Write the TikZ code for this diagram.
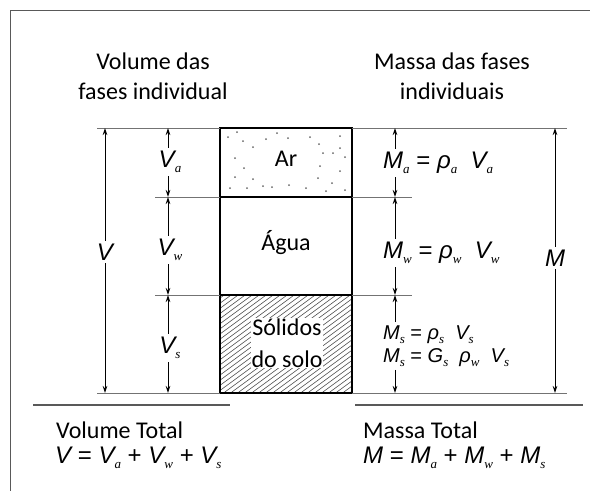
\documentclass[tikz,border=0pt]{standalone}
\usepackage{fontspec}
\setmainfont{Carlito}
\newfontfamily\symfont{Liberation Sans}
\newfontfamily\subfont{Liberation Serif}
\usetikzlibrary{arrows.meta}

% quantity with subscript: italic sans letter, small italic serif index
\newcommand{\qv}[2]{{\symfont\itshape #1}\raisebox{-0.22em}{\subfont\itshape\fontsize{13}{13}\selectfont #2}}
\newcommand{\qq}[1]{{\symfont\itshape #1}}

\begin{document}
\begin{tikzpicture}[x=1pt,y=-1pt,>={Stealth[length=7pt,width=4.5pt]},
  extline/.style={draw=black!55,line width=0.9pt},
  boxline/.style={line width=1.8pt},
  dim/.style={->,line width=0.9pt},
  txt/.style={font=\fontsize{24}{30}\selectfont,inner sep=1pt},
  sym/.style={font=\symfont\fontsize{24}{24}\selectfont,inner sep=3pt}]
\useasboundingbox (0,0) rectangle (590,491);
\draw[black!65,line width=1pt] (590,10) -- (10,10) -- (10,491);

% levels of the phase boundaries
\coordinate (top) at (0,128);
\coordinate (ar) at (0,197);
\coordinate (ag) at (0,295);
\coordinate (bot) at (0,393);
% arrow columns
\coordinate (cv) at (105,0);
\coordinate (cvi) at (168,0);
\coordinate (cmi) at (395,0);
\coordinate (cm) at (555,0);

% headers
\node[txt,align=center] (hvol) at (153,76) {Volume das\\fases individual};
\node[txt,align=center] (hmas) at (452,76) {Massa das fases\\individuais};

% air: dots
\foreach \p in {(228,137),(237,132),(243,141),(253,147),(266,139),(277,133),
  (288,138),(310,137),(319,144),(340,136),(340,148),(323,153),(333,153),
  (345,157),(235,158),(244,168),(320,166),(340,171),(235,177),(253,179),
  (318,178),(332,183),(230,188),(247,188),(263,186),(272,187),(289,185),
  (306,188),(326,191),(345,190)}
  \fill[black!60] \p circle (1pt);

% solids: hatch
\begin{scope}
\clip (220,295) rectangle (352,393);
\foreach \x in {60,67,...,360}
  \draw[black!70,line width=0.6pt] (\x,400) -- ++(150,-110);
\end{scope}

% phase box
\draw[boxline] (220,128) rectangle (352,393);
\draw[boxline] (220,197) -- (352,197);
\draw[boxline] (220,295) -- (352,295);

\node[txt] (nar) at (286,159) {Ar};
\node[txt] (nag) at (286,243) {Água};
\node[txt,align=center,fill=white,font=\fontsize{24}{32}\selectfont] (nsol) at (287,343) {Sólidos\\do solo};

% extension lines
\draw[extline] (97,128) -- (220,128);
\draw[extline] (155,197) -- (220,197);
\draw[extline] (155,295) -- (220,295);
\draw[extline] (97,393) -- (220,393);
\draw[extline] (352,128) -- (567,128);
\draw[extline] (352,197) -- (412,197);
\draw[extline] (352,295) -- (412,295);
\draw[extline] (352,393) -- (567,393);

% volumes
\node[sym] (vt) at (105,252) {\qq{V}};
\node[sym] (va) at (170,162) {\qv{V}{a}};
\node[sym] (vw) at (170,250) {\qv{V}{w}};
\node[sym] (vs) at (170,348) {\qv{V}{s}};
\draw[dim] (vt) -- (vt |- top);
\draw[dim] (vt) -- (vt |- bot);
\draw[dim] (va.north -| cvi) -- (cvi |- top);
\draw[dim] (va.south -| cvi) -- (cvi |- ar);
\draw[dim] (vw.north -| cvi) -- (cvi |- ar);
\draw[dim] (vw.south -| cvi) -- (cvi |- ag);
\draw[dim] (vs.north -| cvi) -- (cvi |- ag);
\draw[dim] (vs.south -| cvi) -- (cvi |- bot);

% masses
\node[sym,anchor=west] (ma) at (380,163) {\qv{M}{a} = \qv{ρ}{a}\ \ \qv{V}{a}};
\node[sym,anchor=west] (mw) at (380,253) {\qv{M}{w} = \qv{ρ}{w}\ \ \qv{V}{w}};
\node[sym,anchor=west,align=left,font=\symfont\fontsize{20}{23}\selectfont] (ms) at (380,346)
  {\qv{M}{s} = \qv{ρ}{s}\ \ \qv{V}{s}\\\qv{M}{s} = \qv{G}{s}\ \ \qv{ρ}{w}\ \ \qv{V}{s}};
\node[sym] (mt) at (555,258) {\qq{M}};
\draw[dim] (ma.north -| cmi) -- (cmi |- top);
\draw[dim] (ma.south -| cmi) -- (cmi |- ar);
\draw[dim] (mw.north -| cmi) -- (cmi |- ar);
\draw[dim] (mw.south -| cmi) -- (cmi |- ag);
\draw[dim] (ms.north -| cmi) -- (cmi |- ag);
\draw[dim] (ms.south -| cmi) -- (cmi |- bot);
\draw[dim] (mt) -- (mt |- top);
\draw[dim] (mt) -- (mt |- bot);

% totals
\draw[black!65,line width=1.2pt] (33,405) -- (230,405);
\draw[black!65,line width=1.2pt] (355,405) -- (583,405);
\node[txt,anchor=west] (vtt) at (55,430) {Volume Total};
\node[sym,anchor=west] (veq) at (52,458) {\qq{V} = \qv{V}{a} + \qv{V}{w} + \qv{V}{s}};
\node[txt,anchor=west] (mtt) at (362,430) {Massa Total};
\node[sym,anchor=west] (meq) at (360,458) {\qq{M} = \qv{M}{a} + \qv{M}{w} + \qv{M}{s}};
\end{tikzpicture}
\end{document}
